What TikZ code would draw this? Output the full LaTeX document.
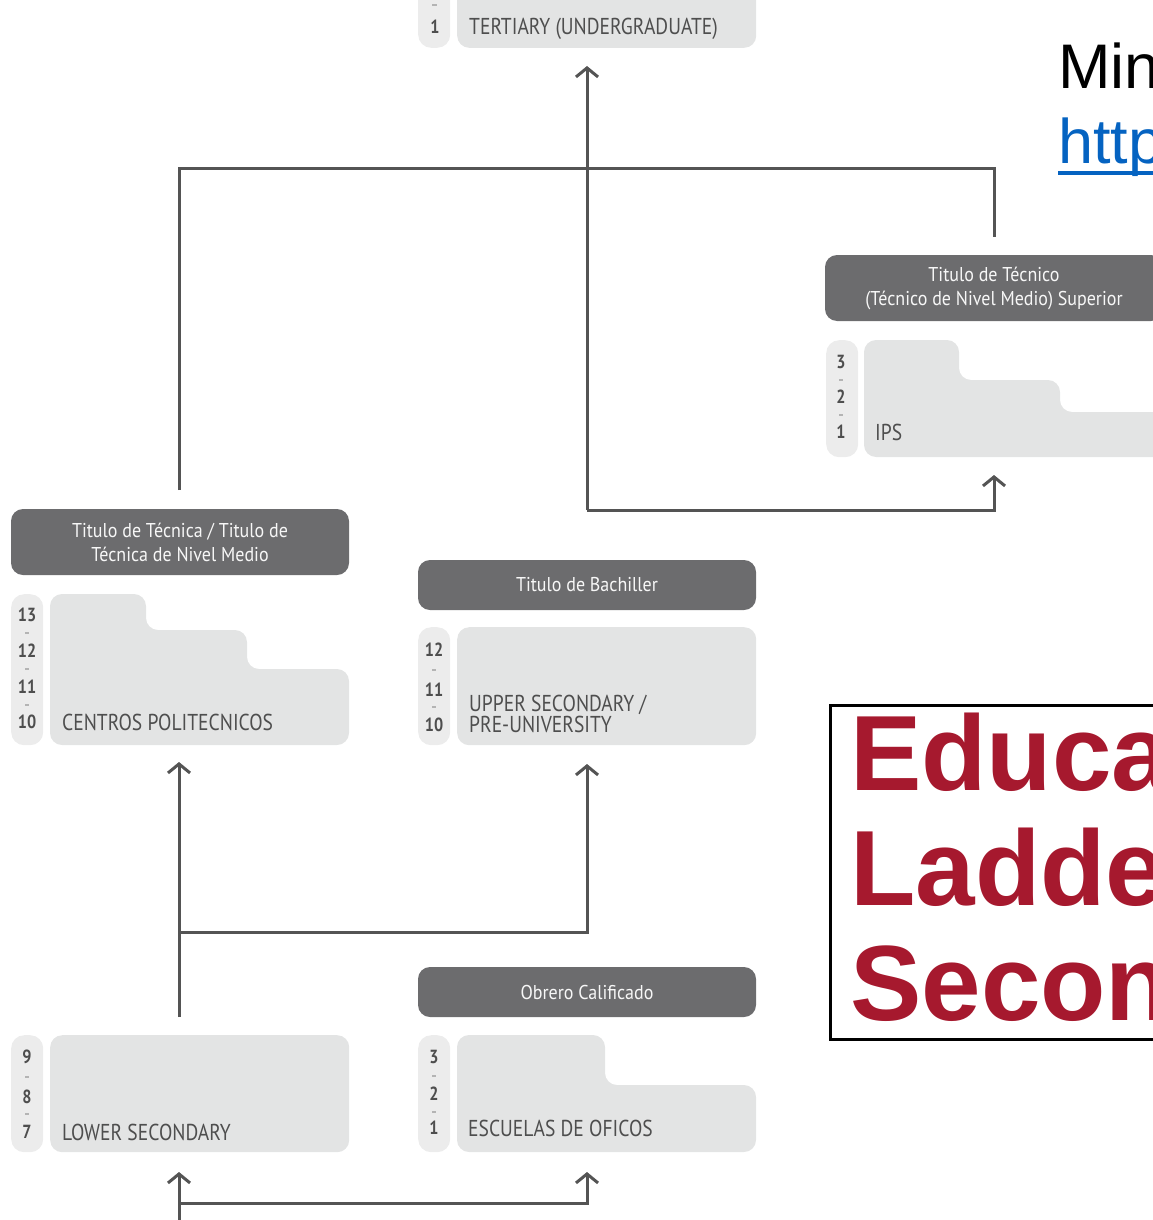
\documentclass[tikz,border=0pt]{standalone}
\usepackage{fontspec}
\setmainfont{PT Sans}[FakeStretch=0.85]
\newfontfamily\degreefont{PT Sans}[FakeStretch=0.9]
\newfontfamily\arialfont{Liberation Sans}
\usetikzlibrary{positioning,calc,arrows.meta}

\definecolor{degreegray}{HTML}{6C6C6E}
\definecolor{schoolgray}{HTML}{E3E4E4}
\definecolor{gradegray}{HTML}{ECECEC}
\definecolor{inkgray}{HTML}{4E4E4E}
\definecolor{tickgray}{HTML}{B4B4B4}
\definecolor{linegray}{HTML}{545454}
\definecolor{titlered}{HTML}{A6192E}
\definecolor{linkblue}{HTML}{0563C1}

\tikzset{
  degree/.style={fill=degreegray, rounded corners=12pt, text=white!94!gray, align=center,
    minimum width=338pt, inner sep=0pt, font=\degreefont\fontsize{20}{24}\selectfont},
  school/.style={fill=schoolgray, rounded corners=12pt},
  grades/.style={fill=gradegray, rounded corners=13pt},
  gradeno/.style={text=inkgray, font=\bfseries\fontsize{19}{20}\selectfont},
  gradetick/.style={draw=tickgray, line width=1.5pt},
  schoolname/.style={text=inkgray, anchor=base west, align=left, inner sep=0pt,
    font=\fontsize{23}{22}\selectfont},
  flow/.style={draw=linegray, line width=3pt},
  flowarrow/.style={flow, -{Straight Barb[length=9pt,width=22pt]}}
}

\begin{document}
\begin{tikzpicture}[x=1pt,y=-1pt]
  \useasboundingbox (0,0) rectangle (1153,1220);
  \clip (0,0) rectangle (1153,1220);

  % Tertiary
  \node[grades, minimum width=32pt, minimum height=80pt, anchor=south west] (tertgr) at (418,48) {};
  \node[school, minimum width=299pt, minimum height=80pt, anchor=south west] (tert) at (457,48) {};
  \draw[gradetick] (432,5) -- (437,5);
  \node[gradeno] at (435,27) {1};
  \node[schoolname] at (469,35) {TERTIARY (UNDERGRADUATE)};

  % Titulo de Tecnico Superior / IPS
  \node[degree, minimum height=66pt] (tecsup) at (994,288) {Titulo de Técnico\\(Técnico de Nivel Medio) Superior};
  \node[grades, minimum width=32pt, minimum height=117pt, anchor=north west] (ipsgr) at (826,340) {};
  \path[school] (864,340) -- (959,340) -- (959,380) -- (1060,380) -- (1060,412)
    -- (1170,412) -- (1170,457) -- (864,457) -- cycle;
  \coordinate (ips) at (994,457);
  \foreach \n/\y in {3/362,2/397,1/432} \node[gradeno] at (841,\y) {\n};
  \foreach \y in {380,415} \draw[gradetick] (839,\y) -- (843,\y);
  \node[schoolname] at (875,440) {IPS};

  % Titulo de Tecnica / Centros Politecnicos
  \node[degree, minimum height=66pt] (tecmed) at (180,542) {Titulo de Técnica / Titulo de\\Técnica de Nivel Medio};
  \node[grades, minimum width=32pt, minimum height=151pt, anchor=north west] (polgr) at (11,594) {};
  \path[school] (50,594) -- (146,594) -- (146,630) -- (247,630) -- (247,669)
    -- (349,669) -- (349,745) -- (50,745) -- cycle;
  \coordinate (poli) at (179,745);
  \foreach \n/\y in {13/615,12/651,11/687,10/722} \node[gradeno] at (27,\y) {\n};
  \foreach \y in {633,669,705} \draw[gradetick] (25,\y) -- (29,\y);
  \node[schoolname] at (62,730) {CENTROS POLITECNICOS};

  % Titulo de Bachiller / Upper secondary
  \node[degree, minimum height=50pt] (bach) at (587,585) {Titulo de Bachiller};
  \node[grades, minimum width=32pt, minimum height=118pt, anchor=north west] (uppgr) at (418,627) {};
  \node[school, minimum width=299pt, minimum height=118pt, anchor=north west] (upper) at (457,627) {};
  \coordinate (upperin) at (587,745);
  \foreach \n/\y in {12/650,11/690,10/725} \node[gradeno] at (434,\y) {\n};
  \foreach \y in {670,707} \draw[gradetick] (432,\y) -- (436,\y);
  \node[schoolname] at (469,711) {UPPER SECONDARY /};
  \node[schoolname] at (469,732) {PRE-UNIVERSITY};

  % Obrero Calificado / Escuelas de oficios
  \node[degree, minimum height=50pt] (obrero) at (587,992) {Obrero Calificado};
  \node[grades, minimum width=32pt, minimum height=117pt, anchor=north west] (escgr) at (418,1035) {};
  \path[school] (457,1035) -- (605,1035) -- (605,1085) -- (756,1085) -- (756,1152)
    -- (457,1152) -- cycle;
  \coordinate (escuelas) at (587,1152);
  \foreach \n/\y in {3/1057,2/1094,1/1128} \node[gradeno] at (434,\y) {\n};
  \foreach \y in {1076,1112} \draw[gradetick] (432,\y) -- (436,\y);
  \node[schoolname] at (468,1136) {ESCUELAS DE OFICOS};

  % Lower secondary
  \node[grades, minimum width=32pt, minimum height=117pt, anchor=north west] (lowgr) at (11,1035) {};
  \node[school, minimum width=299pt, minimum height=117pt, anchor=north west] (lower) at (50,1035) {};
  \coordinate (lowin) at (179,1152);
  \foreach \n/\y in {9/1057,8/1097,7/1132} \node[gradeno] at (27,\y) {\n};
  \foreach \y in {1077,1114} \draw[gradetick] (25,\y) -- (29,\y);
  \node[schoolname] at (62,1140) {LOWER SECONDARY};

  % connectors
  \coordinate (bachout) at (587,510);
  \coordinate (tertin) at (587,48);
  \coordinate (tecout) at (179,490);
  \coordinate (ridge) at (587,168);
  \coordinate (supin) at (994,237);
  \coordinate (lowout) at (179,1017);
  \coordinate (lowfork) at (179,932);
  \coordinate (entry) at (179,1230);
  \coordinate (entryfork) at (179,1203);

  \draw[flowarrow, shorten >=18pt] (bachout) -- (tertin);
  \draw[flowarrow, shorten >=18pt] (bachout) -| (ips);
  \draw[flow] (tecout) |- (ridge) -| (supin);
  \draw[flowarrow, shorten >=17pt] (lowout) -- (poli);
  \draw[flowarrow, shorten >=19pt] (lowfork) -| (upperin);
  \draw[flowarrow, shorten >=20pt] (entry) -- (lowin);
  \draw[flowarrow, shorten >=20pt] (entryfork) -| (escuelas);

  % slide text
  \node[anchor=base west, inner sep=0pt, font=\arialfont\fontsize{63}{70}\selectfont] (ministry) at (1058,89) {Min};
  \node[anchor=base west, inner sep=0pt, text=linkblue, font=\arialfont\fontsize{63}{70}\selectfont] (weblink) at (1058,163) {http};
  \draw[linkblue, line width=4pt] (weblink.base west) ++(0,10) -- ++(120,0);
  \node[draw=black, line width=3pt, anchor=north west, minimum width=360pt, minimum height=334pt] (titlebox) at (829,704) {};
  \node[anchor=base west, inner sep=0pt, text=titlered, font=\arialfont\bfseries\fontsize{107}{115}\selectfont] (title1) at (850,790) {Educa};
  \node[anchor=base west, inner sep=0pt, text=titlered, font=\arialfont\bfseries\fontsize{107}{115}\selectfont] (title2) at (850,905) {Ladde};
  \node[anchor=base west, inner sep=0pt, text=titlered, font=\arialfont\bfseries\fontsize{107}{115}\selectfont] (title3) at (850,1020) {Secon};
\end{tikzpicture}
\end{document}
